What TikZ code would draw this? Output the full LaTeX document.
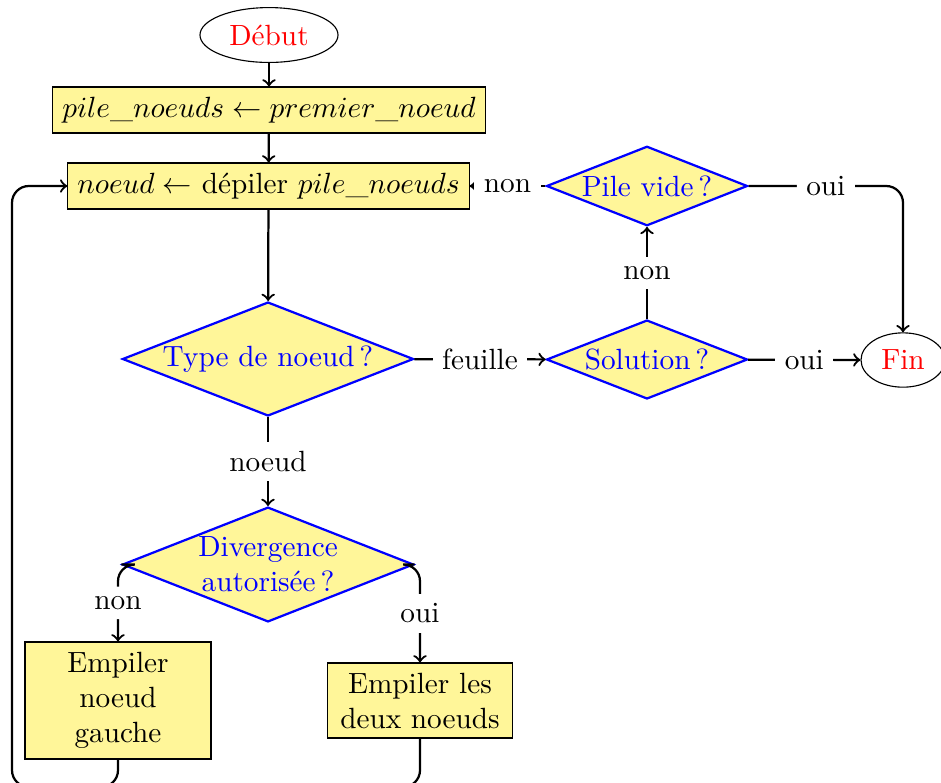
\documentclass[tikz,border=0pt]{standalone}
\usepackage{graphicx}
\usepackage{tikz}
\usetikzlibrary{shapes.geometric,positioning}
\definecolor{boxyellow}{RGB}{255,246,153}
\begin{document}
\begin{tikzpicture}[x=0.35714pt,y=-0.35714pt,
  every node/.style={font=\fontsize{10.45}{12.5}\selectfont},
  term/.style={ellipse,draw,text=red,inner sep=0pt},
  procbox/.style={rectangle,draw,fill=boxyellow,align=center,inner sep=3.4pt},
  decide/.style={diamond,draw=blue,thick,fill=boxyellow,text=blue,align=center,inner sep=0pt,aspect=2.5},
  conn/.style={thick,->},
  lbl/.style={fill=white,inner sep=3.4pt}
]
\useasboundingbox (0,0) rectangle (941,782);

\node[term,minimum width=49.3pt,minimum height=19.6pt] (debut) at (269,35) {Début};
\node[procbox,minimum height=16.4pt,minimum width=153.6pt] (init) at (269,110) {\scalebox{1.045}{$pile\_noeuds \leftarrow premier\_noeud$}};
\node[procbox,minimum height=16.4pt,minimum width=142.5pt] (pop) at (268.5,186) {\scalebox{1.045}{$noeud \leftarrow$}~dépiler~\scalebox{1.045}{$pile\_noeuds$}};
\node[decide,minimum width=104pt,minimum height=40.7pt] (type) at (268,359) {Type de noeud\,?};
\node[decide,minimum width=71.8pt,minimum height=28.2pt] (sol) at (647,359.5) {Solution\,?};
\node[decide,minimum width=71.8pt,minimum height=28.4pt] (vide) at (647,186) {Pile vide\,?};
\node[term,minimum width=30pt,minimum height=19.4pt] (fin) at (903,360) {Fin};
\node[decide,minimum width=104pt,minimum height=41pt] (div) at (268,564.5) {Divergence\\autorisée\,?};
\node[procbox,minimum width=66.4pt,minimum height=41.8pt] (gauche) at (118,700.5) {Empiler\\noeud\\gauche};
\node[procbox,minimum width=66pt,minimum height=26.8pt] (deux) at (420,700.5) {Empiler les\\deux noeuds};
\coordinate (bl) at (12,787);

\draw[conn] (debut) -- (init);
\draw[conn] (init) -- (pop);
\draw[conn] (pop) -- (type);
\draw[conn] (type) -- node[lbl] {feuille} (sol);
\draw[conn] (sol) -- node[lbl] {oui} (fin);
\draw[conn] (sol) -- node[lbl] {non} (vide);
\draw[conn] (vide) -- node[lbl] {non} (pop);
\draw[conn,rounded corners=6pt] (vide.east) -| node[lbl,pos=0.25] {oui} (fin.north);
\draw[conn] (type) -- node[lbl] {noeud} (div);
\draw[conn,rounded corners=6pt] (div.west) -| node[lbl,pos=0.75] {non} (gauche.north);
\draw[conn,rounded corners=6pt] (div.east) -| node[lbl,pos=0.75] {oui} (deux.north);
\draw[conn,rounded corners=6pt] (gauche.south) |- (bl) |- (pop.west);
\draw[thick,rounded corners=6pt] (deux.south) |- (bl);
\end{tikzpicture}
\end{document}
